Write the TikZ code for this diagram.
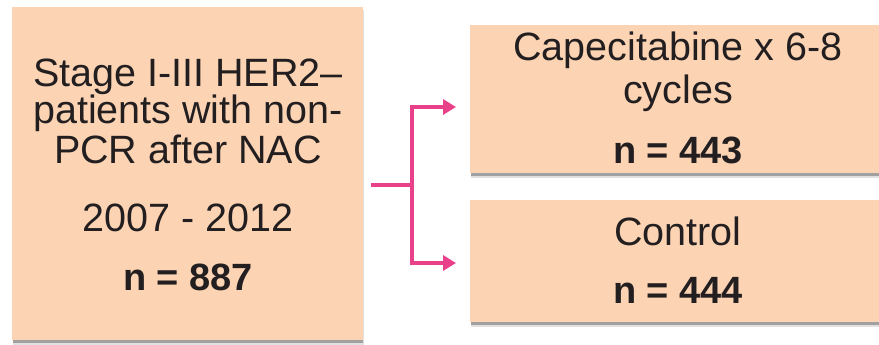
\documentclass[tikz,border=0pt]{standalone}
\usepackage{fontspec}
\setmainfont{Liberation Sans}
\usetikzlibrary{arrows.meta}
\definecolor{peach}{HTML}{FCD4B4}
\definecolor{pinkline}{HTML}{E8418A}
\definecolor{ink}{HTML}{231F20}
\tikzset{
  panel/.style={rectangle, fill=peach, draw=none, inner sep=0pt, anchor=north west},
  label/.style={anchor=base, inner sep=0pt, text=ink, font=\fontsize{39.5pt}{40pt}\selectfont},
  count/.style={anchor=base, inner sep=0pt, text=ink, font=\fontsize{38pt}{40pt}\selectfont\bfseries},
  conn/.style={draw=pinkline, line width=4pt},
  tip/.style={-{Triangle[length=13pt,width=15pt]}}
}
\begin{document}
\begin{tikzpicture}[x=1pt,y=-1pt]
\useasboundingbox[fill=white] (0,0) rectangle (879,345);

% soft shadows beneath the three panels
\foreach \l/\t/\r/\b in {12/7/363/340, 470/25/879/173, 470/200/879/322}{
  \fill[black, opacity=0.12] (\l+1,\t+3) rectangle (\r+1,\b+5);
  \fill[black, opacity=0.28] (\l+1,\t+2) rectangle (\r,\b+3);
}

% panels
\node[panel, minimum width=351pt, minimum height=333pt] (src) at (12,7) {};
\node[panel, minimum width=409pt, minimum height=148pt] (capbox) at (470,25) {};
\node[panel, minimum width=409pt, minimum height=122pt] (ctlbox) at (470,200) {};

% source panel text
\node[label] (s1) at (188,87) {Stage I-III HER2–};
\node[label] (s2) at (188,124) {patients with non-};
\node[label] (s3) at (188,163) {PCR after NAC};
\node[label] (s4) at (188,231) {2007 - 2012};
\node[count] (s5) at (188,290) {n = 887};

% capecitabine arm
\node[label] (c1) at (678,61) {Capecitabine x 6-8};
\node[label] (c2) at (678,103) {cycles};
\node[count] (c3) at (678,163) {n = 443};

% control arm
\node[label] (k1) at (678,245) {Control};
\node[count] (k2) at (678,303) {n = 444};

% randomisation connector
\coordinate (start) at (371,185);
\coordinate (split) at (412,185);
\coordinate (capin) at (456,107);
\coordinate (ctlin) at (456,263);
\draw[conn] (start) -- (split);
\draw[conn, {Triangle[length=13pt,width=15pt]}-{Triangle[length=13pt,width=15pt]}] (capin) -| (split) |- (ctlin);
\end{tikzpicture}
\end{document}
